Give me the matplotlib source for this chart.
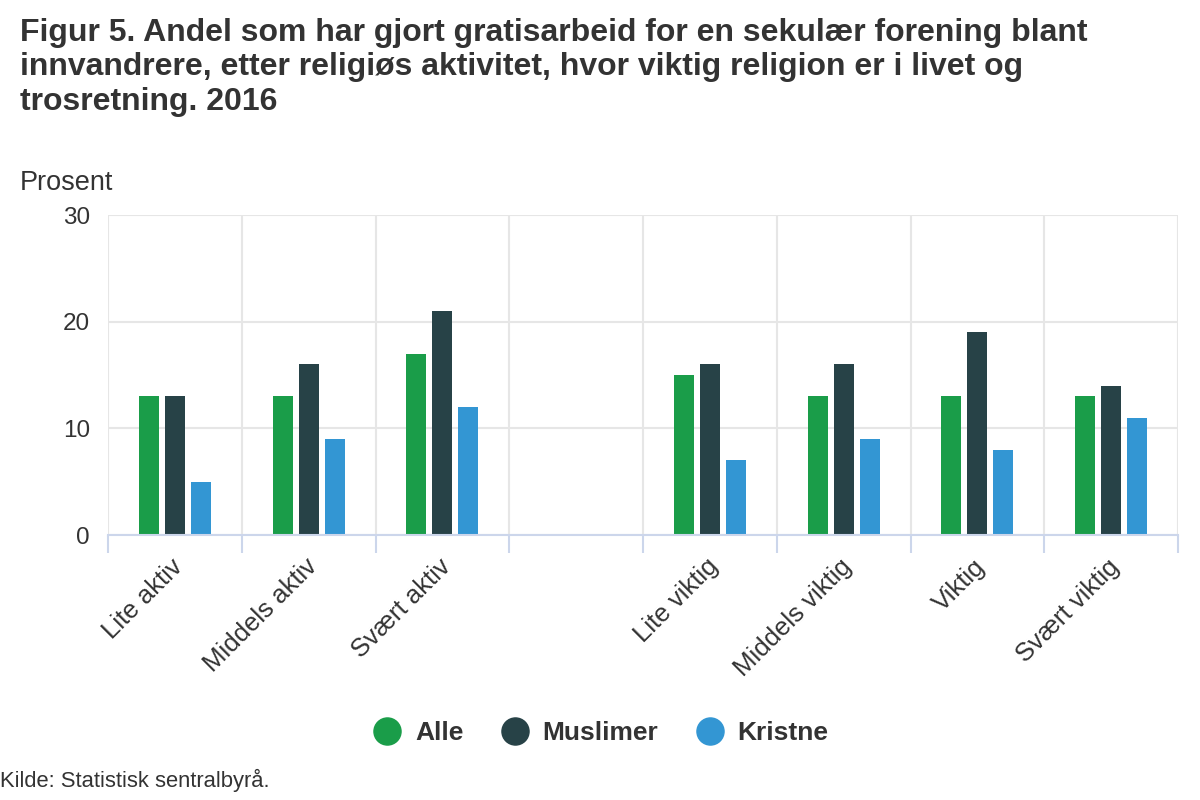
import matplotlib.pyplot as plt
import matplotlib.transforms as mtransforms
from matplotlib.lines import Line2D
import numpy as np

plt.rcParams['font.family'] = ['Liberation Sans', 'DejaVu Sans']

categories = ['Lite aktiv', 'Middels aktiv', 'Svært aktiv', '',
              'Lite viktig', 'Middels viktig', 'Viktig', 'Svært viktig']
alle = [13, 13, 17, np.nan, 15, 13, 13, 13]
muslimer = [13, 16, 21, np.nan, 16, 16, 19, 14]
kristne = [5, 9, 12, np.nan, 7, 9, 8, 11]
series_names = ['Alle', 'Muslimer', 'Kristne']
colors = ['#1a9d49', '#274247', '#3396d3']

fig = plt.figure(figsize=(12, 8), dpi=100)
ax = fig.add_axes([0.09, 0.33125, 0.8917, 0.4])

x = np.arange(len(categories))
width = 0.15
step = 0.194
for i, (vals, col) in enumerate(zip([alle, muslimer, kristne], colors)):
    ax.bar(x + (i - 1) * step, vals, width=width, color=col, zorder=3)

ax.set_xlim(-0.5, len(categories) - 0.5)
ax.set_ylim(0, 30)
ax.set_yticks([0, 10, 20, 30])
ax.tick_params(axis='y', length=0, labelsize=17.5, colors='#333333', pad=13)

# category boundaries: gridlines and ticks
bounds = np.arange(len(categories) + 1) - 0.5
ax.set_xticks(bounds)
ax.set_xticklabels([])
ax.tick_params(axis='x', length=13, width=1.5, color='#ccd6eb', direction='out')
ax.set_xticks(x, minor=True)
ax.set_xticklabels(categories, minor=True, rotation=45, ha='right',
                   rotation_mode='anchor', fontsize=18.5, color='#333333')
ax.tick_params(axis='x', which='minor', length=0, pad=14)
offset = mtransforms.ScaledTranslation(-4 / 100, 0, fig.dpi_scale_trans)
for lab in ax.get_xticklabels(minor=True):
    lab.set_transform(lab.get_transform() + offset)

ax.grid(True, axis='both', which='major', color='#e6e6e6', linewidth=1.5, zorder=0)
for s in ['top', 'right', 'left']:
    ax.spines[s].set_visible(False)
ax.spines['bottom'].set_color('#ccd6eb')
ax.spines['bottom'].set_linewidth(1.5)
ax.spines['bottom'].set_zorder(4)

fig.text(0.0167, 0.978, 'Figur 5. Andel som har gjort gratisarbeid for en sekulær forening blant\n'
         'innvandrere, etter religiøs aktivitet, hvor viktig religion er i livet og\n'
         'trosretning. 2016', fontsize=23, fontweight='bold', color='#333333',
         va='top', ha='left', linespacing=1.2)
fig.text(0.0167, 0.771, 'Prosent', fontsize=19.5, color='#333333', va='center', ha='left')

handles = [Line2D([], [], marker='o', linestyle='none', markersize=19.5,
                  markerfacecolor=c, markeredgecolor=c) for c in colors]
leg = fig.legend(handles, series_names, loc='center', bbox_to_anchor=(0.5, 0.084),
                 ncol=3, frameon=False, handletextpad=0.45, columnspacing=1.35,
                 handlelength=1.2, prop={'size': 19, 'weight': 'bold'})
for t in leg.get_texts():
    t.set_color('#333333')

fig.text(0.0, 0.025, 'Kilde: Statistisk sentralbyrå.', fontsize=15.8, color='#333333',
         va='center', ha='left')

fig.savefig('out.png', dpi=100)
